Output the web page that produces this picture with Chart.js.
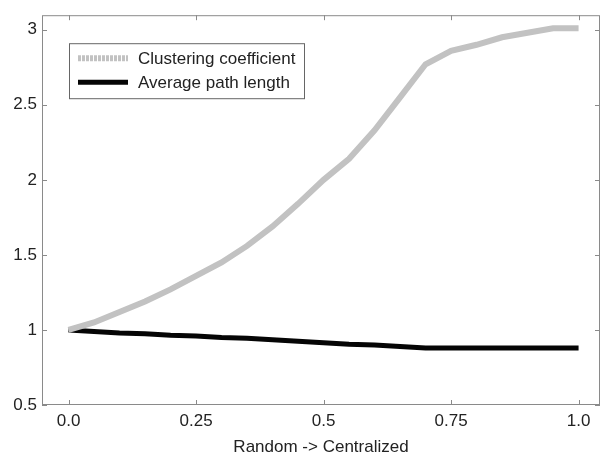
<!DOCTYPE html>
<html>
<head>
<meta charset="utf-8">
<script src="https://cdn.jsdelivr.net/npm/chart.js@4/dist/chart.umd.min.js"></script>
<style>
    html, body { margin: 0; padding: 0; background: #fff; }
    #wrap { width: 604px; height: 461px; }
</style>
</head>
<body>
<div id="wrap"><canvas id="chart"></canvas></div>
<script>
// x positions (Random -> Centralized)
var xValues = [0, 0.05, 0.1, 0.15, 0.2, 0.25, 0.3, 0.35, 0.4, 0.45, 0.5,
    0.55, 0.6, 0.65, 0.7, 0.75, 0.8, 0.85, 0.9, 0.95, 1.0];
var clustering = [1.00, 1.05, 1.12, 1.19, 1.27, 1.36, 1.45, 1.56, 1.69, 1.84, 2.00,
    2.14, 2.33, 2.55, 2.77, 2.86, 2.90, 2.95, 2.98, 3.01, 3.01];
var pathLength = [1.00, 0.99, 0.98, 0.975, 0.965, 0.96, 0.95, 0.945, 0.935, 0.925, 0.915,
    0.905, 0.90, 0.89, 0.88, 0.88, 0.88, 0.88, 0.88, 0.88, 0.88];
var xTicks = [0, 0.25, 0.5, 0.75, 1.0];
var xTickLabels = ['0.0', '0.25', '0.5', '0.75', '1.0'];
var yTicks = [0.5, 1, 1.5, 2, 2.5, 3];
var yTickLabels = ['0.5', '1', '1.5', '2', '2.5', '3'];
var seriesNames = ['Clustering coefficient', 'Average path length'];

var FONT = 'Liberation Sans, Arial, sans-serif';

function toPoints(ys) {
    var pts = [];
    for (var i = 0; i < xValues.length; i++) {
        pts.push({ x: xValues[i], y: ys[i] });
    }
    return pts;
}

// box round the plot + ticks pointing inward on all four sides
var frame = {
    id: 'frame',
    afterDraw: function (chart) {
        var ctx = chart.ctx;
        var a = chart.chartArea;
        var xs = chart.scales.x, ys = chart.scales.y;
        ctx.save();
        ctx.strokeStyle = '#8a8a8a';
        ctx.lineWidth = 1;
        ctx.strokeRect(a.left + 0.5, a.top + 0.5, a.right - a.left - 1, a.bottom - a.top - 1);
        ctx.beginPath();
        xTicks.forEach(function (v) {
            var px = Math.round(xs.getPixelForValue(v)) + 0.5;
            ctx.moveTo(px, a.bottom); ctx.lineTo(px, a.bottom - 5);
            ctx.moveTo(px, a.top); ctx.lineTo(px, a.top + 5);
        });
        yTicks.forEach(function (v) {
            var py = Math.round(ys.getPixelForValue(v)) + 0.5;
            ctx.moveTo(a.left, py); ctx.lineTo(a.left + 5, py);
            ctx.moveTo(a.right, py); ctx.lineTo(a.right - 5, py);
        });
        ctx.stroke();

        // legend box
        var lx = a.left + 27, ly = a.top + 28, lw = 235, lh = 55;
        ctx.fillStyle = '#fff';
        ctx.fillRect(lx, ly, lw, lh);
        ctx.strokeStyle = '#666';
        ctx.strokeRect(lx + 0.5, ly + 0.5, lw, lh);
        ctx.font = '17px ' + FONT;
        ctx.textBaseline = 'middle';
        chart.data.datasets.forEach(function (ds, i) {
            var rowY = ly + 15 + i * 24;
            ctx.strokeStyle = ds.borderColor;
            ctx.lineWidth = ds.borderWidth;
            ctx.setLineDash(ds.legendDash || []);
            ctx.beginPath();
            ctx.moveTo(lx + 9, rowY); ctx.lineTo(lx + 59, rowY);
            ctx.stroke();
            ctx.setLineDash([]);
            ctx.fillStyle = '#222';
            ctx.fillText(ds.label, lx + 69, rowY + 1);
        });
        ctx.restore();
    }
};

new Chart(document.getElementById('chart'), {
    type: 'line',
    data: {
        datasets: [{
            label: seriesNames[0],
            data: toPoints(clustering),
            borderColor: '#c2c2c2',
            borderWidth: 6,
            legendDash: [3, 1],
            pointRadius: 0,
            tension: 0
        }, {
            label: seriesNames[1],
            data: toPoints(pathLength),
            borderColor: '#050505',
            borderWidth: 5,
            pointRadius: 0,
            tension: 0
        }]
    },
    options: {
        responsive: true,
        maintainAspectRatio: false,
        animation: false,
        layout: { padding: { top: 5, right: 4, left: 0, bottom: 0 } },
        plugins: {
            legend: { display: false },
            tooltip: { enabled: false }
        },
        scales: {
            x: {
                type: 'linear',
                min: -0.052,
                max: 1.042,
                afterBuildTicks: function (scale) {
                    scale.ticks = xTicks.map(function (v) { return { value: v }; });
                },
                afterFit: function (scale) { scale.height = 56; },
                grid: { display: false, drawTicks: false },
                border: { display: false },
                ticks: {
                    padding: 6,
                    color: '#222',
                    font: { family: FONT, size: 17 },
                    maxRotation: 0,
                    callback: function (v) {
                        var i = xTicks.indexOf(v);
                        return i >= 0 ? xTickLabels[i] : '';
                    }
                },
                title: {
                    display: true,
                    text: 'Random -> Centralized',
                    color: '#222',
                    font: { family: FONT, size: 17 },
                    padding: { top: 0, bottom: 3 }
                }
            },
            y: {
                min: 0.5,
                max: 3.097,
                afterBuildTicks: function (scale) {
                    scale.ticks = yTicks.map(function (v) { return { value: v }; });
                },
                afterFit: function (scale) { scale.width = 42; },
                grid: { display: false, drawTicks: false },
                border: { display: false },
                ticks: {
                    padding: 5,
                    color: '#222',
                    font: { family: FONT, size: 17 },
                    callback: function (v) {
                        var i = yTicks.indexOf(v);
                        return i >= 0 ? yTickLabels[i] : '';
                    }
                }
            }
        }
    },
    plugins: [frame]
});
</script>
</body>
</html>
